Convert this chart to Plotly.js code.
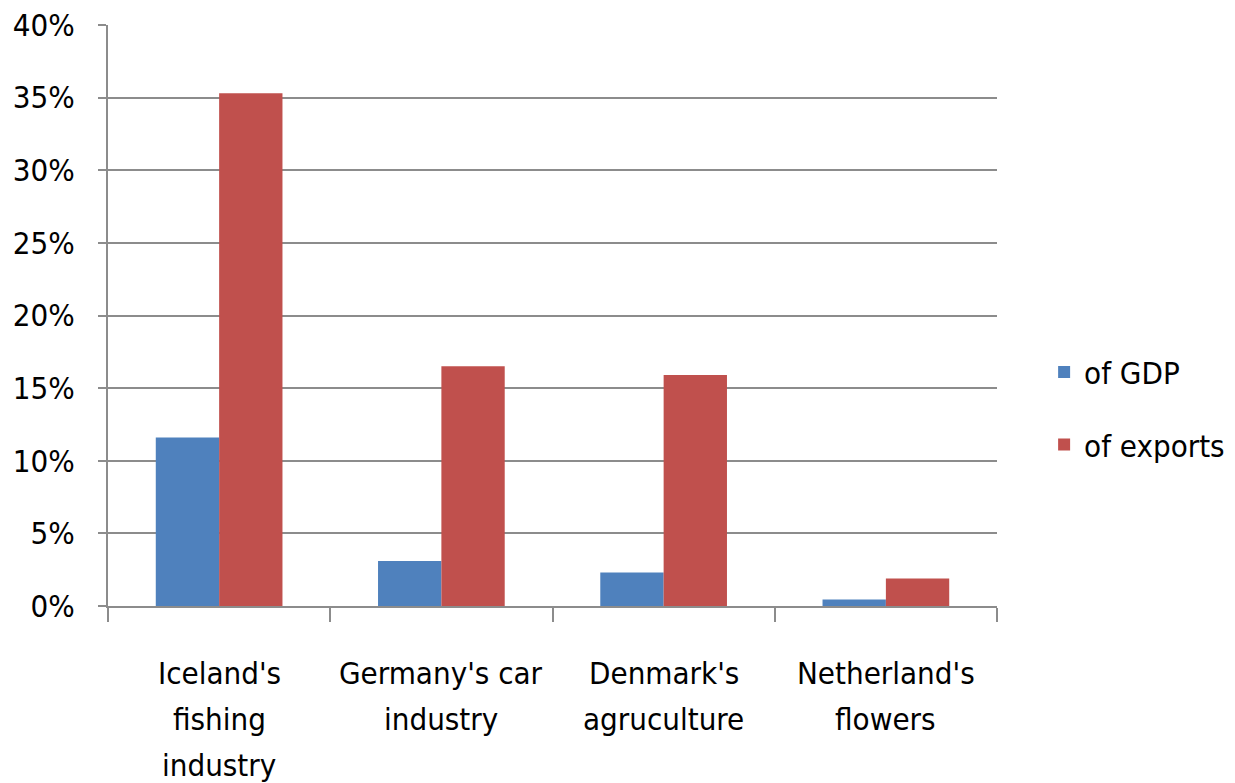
<!DOCTYPE html>
<html>
<head>
<meta charset="utf-8">
<script src="https://cdn.plot.ly/plotly-3.0.1.min.js"></script>
<style>html,body{margin:0;padding:0;background:#fff;}#chart{width:1235px;height:783px;}</style>
</head>
<body>
<div id="chart"></div>
<script>
const categories = ["Iceland's fishing industry", "Germany's car industry", "Denmark's agruculture", "Netherland's flowers"];
const categoryLines = [["Iceland's", "fishing", "industry"], ["Germany's car", "industry"], ["Denmark's", "agruculture"], ["Netherland's", "flowers"]];
const gdpShare = [11.6, 3.1, 2.3, 0.45];
const exportShare = [35.3, 16.5, 15.9, 1.9];
const seriesNames = ["of GDP", "of exports"];
const yTicks = [0, 5, 10, 15, 20, 25, 30, 35, 40];
const yTickLabels = ["0%", "5%", "10%", "15%", "20%", "25%", "30%", "35%", "40%"];

const FONT = '"Liberation Sans Narrow", "DejaVu Sans Condensed", "Open Sans", sans-serif';
const gridColor = '#8c8c8c';
const FS = 31;

const traces = [
  {type: 'bar', x: categories, y: gdpShare, name: seriesNames[0], legendgroup: 'a',
   marker: {color: '#4F81BD'}},
  {type: 'bar', x: categories, y: exportShare, name: seriesNames[1], legendgroup: 'b',
   marker: {color: '#C0504D'}}
];

const annotations = [];
categoryLines.forEach((lines, i) => {
  lines.forEach((ln, j) => {
    annotations.push({
      x: categories[i], xref: 'x', y: -0.115 - j * 0.079, yref: 'paper',
      text: ln, showarrow: false, xanchor: 'center', yanchor: 'middle',
      font: {family: FONT, size: FS, color: '#000'}
    });
  });
});

const layout = {
  width: 1235, height: 783,
  margin: {l: 108, r: 238, t: 25, b: 177, autoexpand: false},
  paper_bgcolor: '#fff', plot_bgcolor: '#fff',
  font: {family: FONT, size: FS, color: '#000'},
  barmode: 'group', bargap: 0.43, bargroupgap: 0,
  showlegend: true,
  legend: {x: 1.053, xanchor: 'left', y: 0.34, yanchor: 'middle',
           font: {family: FONT, size: FS, color: '#000'},
           traceorder: 'grouped', tracegroupgap: 29, bgcolor: 'rgba(0,0,0,0)'},
  xaxis: {type: 'category', showticklabels: false, tickson: 'boundaries',
          ticks: 'outside', ticklen: 14, tickwidth: 2, tickcolor: gridColor,
          showline: true, linecolor: gridColor, linewidth: 2, showgrid: false,
          zeroline: false, fixedrange: true},
  yaxis: {range: [0, 40], tickmode: 'array', tickvals: yTicks, ticktext: yTickLabels,
          ticks: 'outside', ticklen: 8, tickwidth: 2, tickcolor: gridColor,
          ticklabelstandoff: 17,
          showline: true, linecolor: gridColor, linewidth: 2,
          showgrid: true, gridcolor: gridColor, gridwidth: 2, zeroline: false,
          tickfont: {family: FONT, size: FS, color: '#000'}, fixedrange: true},
  annotations: annotations
};

Plotly.newPlot('chart', traces, layout, {displayModeBar: false, staticPlot: true});
</script>
</body>
</html>
